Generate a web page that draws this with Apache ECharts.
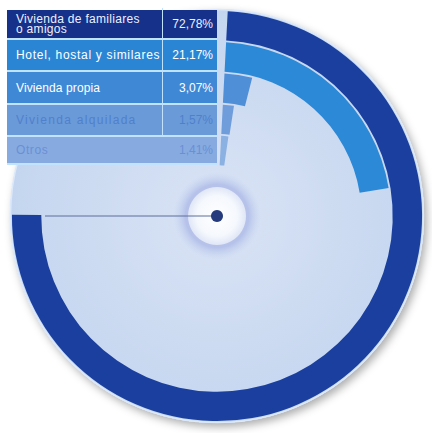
<!DOCTYPE html>
<html>
<head>
<meta charset="utf-8">
<script src="https://cdn.jsdelivr.net/npm/echarts@6/dist/echarts.min.js"></script>
<style>
  html, body { margin: 0; padding: 0; background: #ffffff; }
  #wrap { position: relative; width: 432px; height: 433px; overflow: hidden; }
  #chart { position: absolute; left: 0; top: 0; width: 432px; height: 433px; }
  #tabla { position: absolute; left: 7px; top: 0; width: 210px;
           font-family: "Liberation Sans", Arial, sans-serif; font-size: 12px; }
  .fila { position: absolute; left: 0; width: 210px; box-sizing: border-box; }
  .etq { position: absolute; left: 9px; top: 0; bottom: 0; display: flex; align-items: center;
         white-space: pre-line; line-height: 10px; }
  .val { position: absolute; right: 4px; top: 0; bottom: 0; display: flex; align-items: center; }
  .div { position: absolute; left: 155px; top: -2px; bottom: 0; width: 1px; background: #c2e3ff; }
  .sep { position: absolute; left: 0; width: 210px; height: 2px; background: #c2e3ff; }
</style>
</head>
<body>
<div id="wrap">
  <div id="chart"></div>
  <div id="tabla"></div>
</div>
<script>
// Lugar de alojamiento (porcentaje de viajeros)
const categorias = [
  'Vivienda de familiares\no amigos',
  'Hotel, hostal y similares',
  'Vivienda propia',
  'Vivienda alquilada',
  'Otros'
];
const porcentajes = [72.78, 21.17, 3.07, 1.57, 1.41];

// Estilo de cada anillo / fila de la tabla (de fuera hacia dentro)
const coloresAnillo = ['#1b3f9e', '#2b89d7', '#4f8fd8', '#6f9ddb', '#8bb0e2'];
const coloresFila   = ['#15318a', '#2a86d5', '#3f88d6', '#6b9ad9', '#87abe0'];
const coloresTexto  = ['#eef0ff', '#ffffff', '#ffffff', '#4f80cc', '#6a8fd6'];
const espaciado     = [0.3, 0.7, 0.1, 1.3, 0.6];
const cajasFila     = [[10, 28], [40, 30], [72, 31], [105, 30], [137, 26]];

const fmt = v => v.toFixed(2).replace('.', ',') + '%';

// Tabla de leyenda
const tabla = document.getElementById('tabla');
categorias.forEach((c, i) => {
  const [top, h] = cajasFila[i];
  const f = document.createElement('div');
  f.className = 'fila';
  f.style.top = top + 'px';
  f.style.height = h + 'px';
  f.style.background = coloresFila[i];
  f.style.color = coloresTexto[i];
  const e = document.createElement('div');
  e.className = 'etq';
  e.style.letterSpacing = espaciado[i] + 'px';
  e.textContent = c;
  const v = document.createElement('div');
  v.className = 'val';
  v.textContent = fmt(porcentajes[i]);
  f.appendChild(e);
  f.appendChild(v);
  if (i < 4) {
    const d = document.createElement('div');
    d.className = 'div';
    f.appendChild(d);
  }
  tabla.appendChild(f);
  const s = document.createElement('div');
  s.className = 'sep';
  s.style.top = (top + h) + 'px';
  tabla.appendChild(s);
});

// Gráfico radial
const cx = 217, cy = 216, rExt = 206;
const chart = echarts.init(document.getElementById('chart'), null, { renderer: 'svg' });

const anillos = categorias.map((c, i) => ({
  value: porcentajes[i],
  itemStyle: { color: coloresAnillo[i] }
})).reverse();

chart.setOption({
  animation: false,
  polar: { center: [cx, cy], radius: [50, rExt] },
  angleAxis: {
    type: 'value', min: 0, max: 98, startAngle: 87, clockwise: true,
    axisLine: { show: false }, axisTick: { show: false },
    axisLabel: { show: false }, splitLine: { show: false }
  },
  radiusAxis: {
    type: 'category', data: categorias.slice().reverse(),
    axisLine: { show: false }, axisTick: { show: false },
    axisLabel: { show: false }, splitLine: { show: false }
  },
  series: [{
    type: 'bar',
    coordinateSystem: 'polar',
    data: anillos,
    barCategoryGap: '6%',
    z: 3
  }],
  graphic: [
    { type: 'circle', z: 0, shape: { cx: cx, cy: cy, r: rExt + 1 },
      style: {
        fill: { type: 'radial', x: 0.5, y: 0.5, r: 0.5,
          colorStops: [{ offset: 0, color: '#dae3f5' }, { offset: 1, color: '#c4d6ef' }] },
        shadowBlur: 9, shadowOffsetX: 3, shadowOffsetY: 4, shadowColor: 'rgba(0,0,0,0.32)'
      } },
    { type: 'circle', z: 5, silent: true, shape: { cx: cx, cy: cy, r: rExt + 0.5 },
      style: { fill: 'none', stroke: '#dce9fb', lineWidth: 1.5 } },
    { type: 'circle', z: 6, shape: { cx: cx, cy: cy, r: 44 },
      style: { fill: { type: 'radial', x: 0.5, y: 0.5, r: 0.5,
        colorStops: [{ offset: 0, color: '#b3bfe9' }, { offset: 0.72, color: '#b7c2ea' },
                     { offset: 1, color: 'rgba(197,214,238,0)' }] } } },
    { type: 'circle', z: 7, shape: { cx: cx, cy: cy, r: 29 },
      style: { fill: { type: 'radial', x: 0.5, y: 0.5, r: 0.5,
        colorStops: [{ offset: 0, color: '#ffffff' }, { offset: 0.7, color: '#f5f8fd' },
                     { offset: 1, color: '#dfe6f6' }] } } },
    { type: 'line', z: 8, shape: { x1: 45, y1: cy, x2: cx, y2: cy },
      style: { stroke: '#5d6f9b', lineWidth: 1 } },
    { type: 'circle', z: 9, shape: { cx: cx, cy: cy, r: 6 },
      style: { fill: '#263b7e' } }
  ]
});
</script>
</body>
</html>
